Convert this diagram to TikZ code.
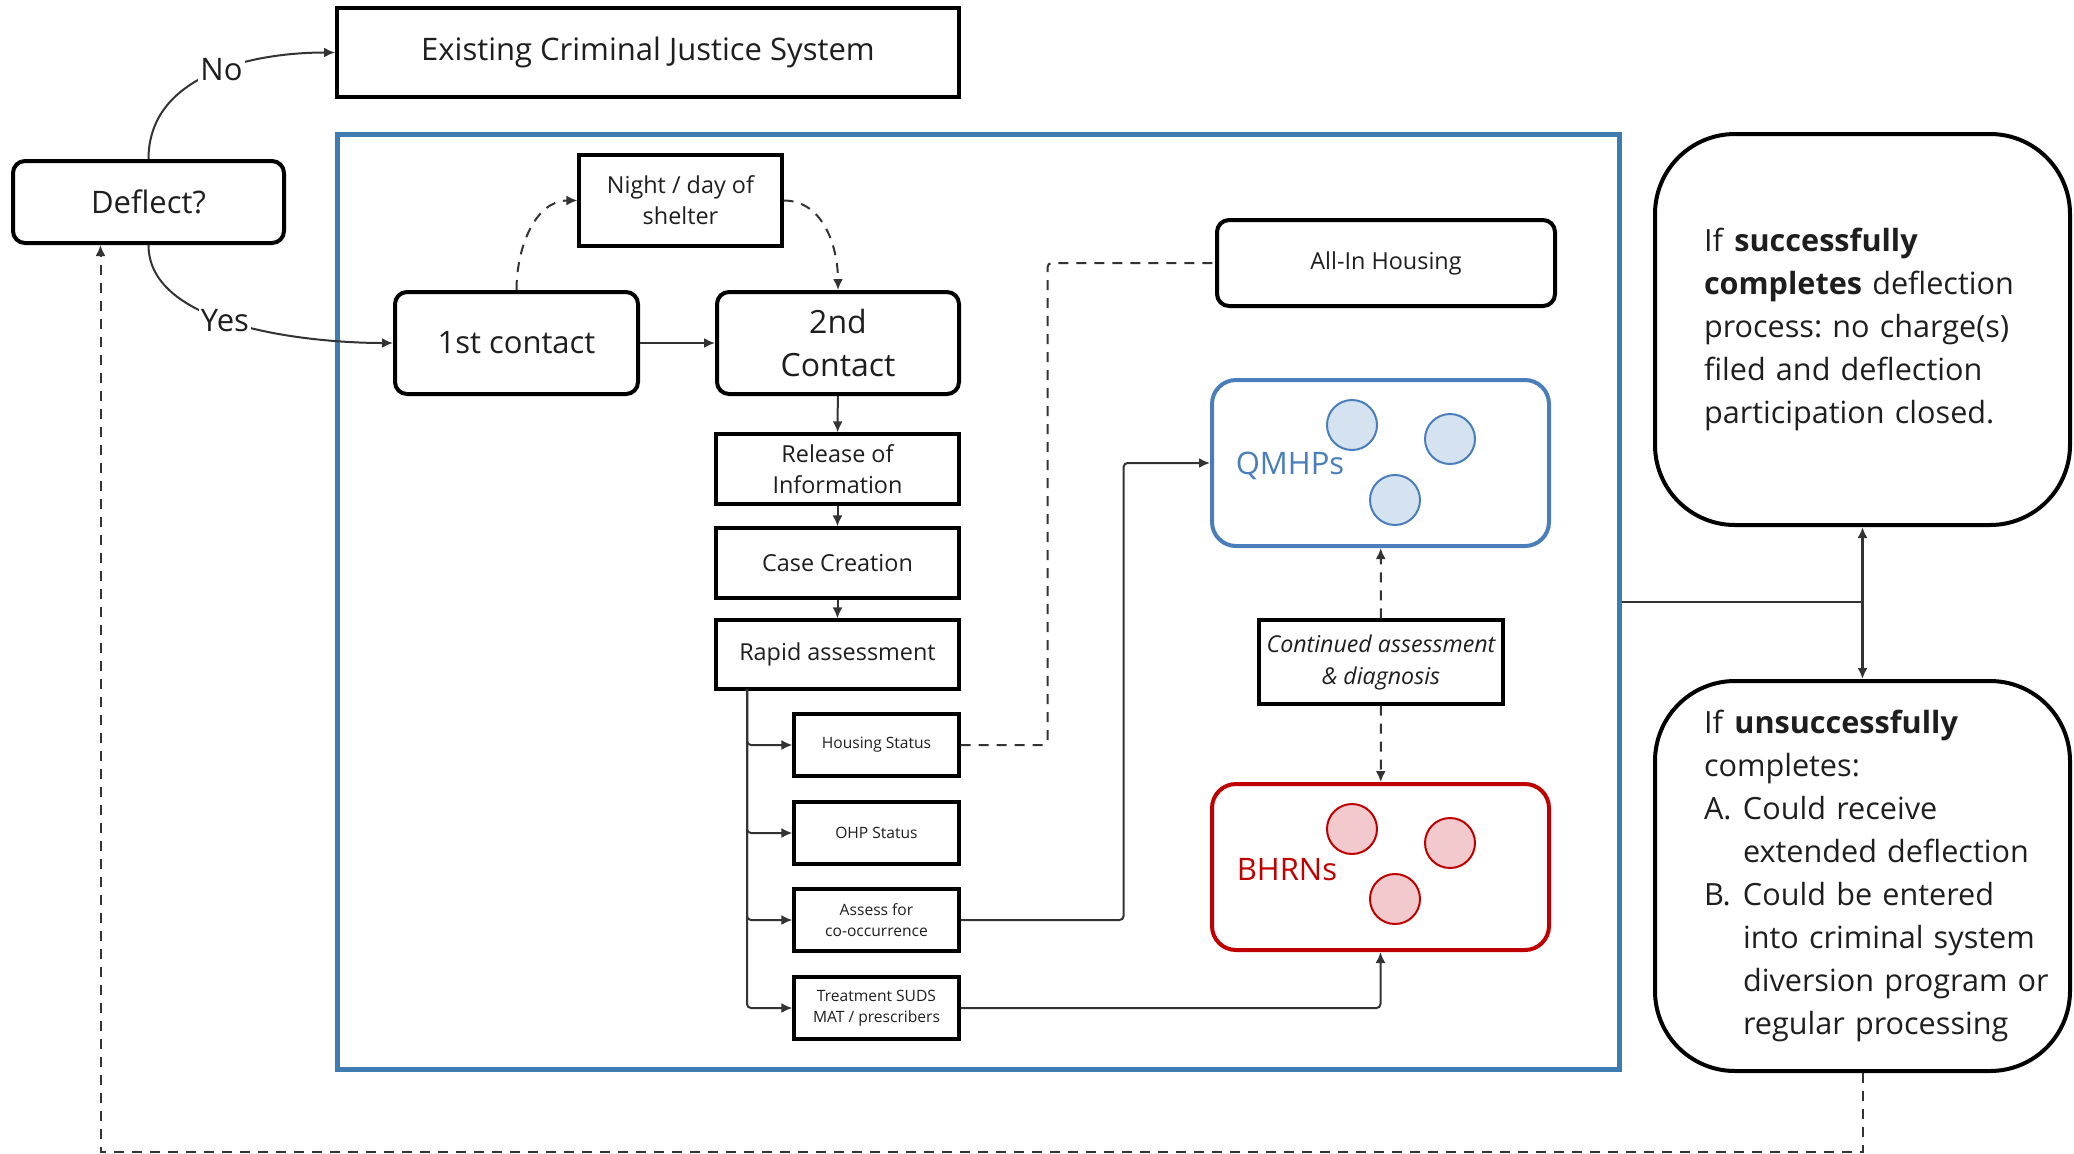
\documentclass[tikz,border=0pt]{standalone}
\usepackage{fontspec}
\setmainfont{Open Sans}
\usetikzlibrary{arrows.meta}
\frenchspacing

\definecolor{frameblue}{HTML}{3E7CB1}
\definecolor{qblue}{HTML}{4A7EBB}
\definecolor{qfill}{HTML}{D5E2F0}
\definecolor{bred}{HTML}{C00000}
\definecolor{bfill}{HTML}{F2C9CD}
\definecolor{linegray}{HTML}{333333}
\definecolor{inkgray}{HTML}{1E1E1E}

\begin{document}
\begin{tikzpicture}[x=0.5pt,y=-0.5pt,
        >={Latex[length=5.5pt,width=5pt]},
        every node/.style={inner sep=2pt,text=inkgray},
        bigbox/.style={draw,rounded corners=6pt,line width=2pt,align=center,font=\fontsize{15.5}{21}\selectfont},
        plainbox/.style={draw,line width=1.6pt,align=center,minimum width=121.5pt,font=\fontsize{11.7}{15.5}\selectfont},
        subbox/.style={draw,line width=1.6pt,align=center,minimum width=82.5pt,minimum height=31pt,font=\fontsize{7.8}{10.5}\selectfont},
        poolbox/.style={draw,rounded corners=12pt,line width=2pt,minimum width=168.5pt,minimum height=83pt},
        member/.style={circle,draw,line width=1pt,minimum size=25pt},
        outcome/.style={draw,rounded corners=40pt,line width=2pt,minimum width=207.5pt,minimum height=195.5pt,text width=158.5pt,align=left,font=\fontsize{15.3}{21.5}\selectfont},
        link/.style={draw=linegray,line width=1pt},
        dashlink/.style={link,dash pattern=on 5pt off 4pt},
        answer/.style={fill=white,inner sep=1pt,font=\fontsize{15.5}{17}\selectfont}]

    \useasboundingbox (0,0) rectangle (2074,1153);

    % left side
    \node[bigbox,rounded corners=0pt,minimum width=311pt,minimum height=44.5pt] (cjs) at (648,52.5) {Existing Criminal Justice System};
    \node[bigbox,minimum width=135.5pt,minimum height=41pt] (deflect) at (148.5,202) {Deflect?};

    % deflection programme
    \node[draw=frameblue,line width=2.5pt,minimum width=641pt,minimum height=467.5pt] (program) at (978,601.5) {};
    \node[plainbox,minimum width=101.5pt,minimum height=45.5pt] (shelter) at (680.5,200.5) {Night / day of\\shelter};
    \node[bigbox,minimum width=121.5pt,minimum height=51pt] (first) at (516.5,343) {1st contact};
    \node[bigbox,minimum width=121pt,minimum height=51pt,font=\fontsize{16}{21.5}\selectfont] (second) at (838,343) {2nd\\Contact};
    \node[plainbox,minimum height=35pt] (release) at (837.5,469) {Release of\\Information};
    \node[plainbox,minimum height=35pt] (casecreate) at (837.5,563) {Case Creation};
    \node[plainbox,minimum height=34.5pt] (rapid) at (837.5,654.5) {Rapid assessment};
    \node[subbox] (housing) at (876.5,745) {Housing Status};
    \node[subbox] (ohp) at (876.5,833) {OHP Status};
    \node[subbox] (cooccur) at (876.5,920) {Assess for\\co-occurrence};
    \node[subbox] (treatment) at (876.5,1008) {Treatment SUDS\\MAT / prescribers};
    \coordinate (trunk) at (747,689);

    \node[bigbox,minimum width=169pt,minimum height=43pt,font=\fontsize{11.7}{15}\selectfont] (allin) at (1386,263) {All-In Housing};

    \node[poolbox,draw=qblue] (qmhp) at (1380.5,463) {};
    \node[text=qblue,font=\fontsize{15.5}{17}\selectfont] (qmhplabel) at (1290,466) {QMHPs};
    \node[member,draw=qblue,fill=qfill] (q1) at (1352,425) {};
    \node[member,draw=qblue,fill=qfill] (q2) at (1450,439) {};
    \node[member,draw=qblue,fill=qfill] (q3) at (1395,500) {};

    \node[plainbox,minimum width=122pt,minimum height=42pt,font=\fontsize{11.6}{16}\selectfont\itshape] (continued) at (1381,662) {Continued assessment\\\& diagnosis};

    \node[poolbox,draw=bred] (bhrn) at (1380.5,867) {};
    \node[text=bred,font=\fontsize{15.5}{17}\selectfont] (bhrnlabel) at (1287,870) {BHRNs};
    \node[member,draw=bred,fill=bfill] (b1) at (1352,829) {};
    \node[member,draw=bred,fill=bfill] (b2) at (1450,843) {};
    \node[member,draw=bred,fill=bfill] (b3) at (1395,899) {};

    % outcomes
    \node[outcome] (success) at (1862.5,329.5) {If \textbf{successfully}\\\textbf{completes} deflection\\process: no charge(s)\\filed and deflection\\participation closed.};
    \node[outcome,minimum height=195pt] (failure) at (1862.5,876) {If \textbf{unsuccessfully}\\completes:\\\mbox{\makebox[19.5pt][l]{A.}Could receive}\\\mbox{\hspace*{19.5pt}extended deflection}\\\mbox{\makebox[19.5pt][l]{B.}Could be entered}\\\mbox{\hspace*{19.5pt}into criminal system}\\\mbox{\hspace*{19.5pt}diversion program or}\\\mbox{\hspace*{19.5pt}regular processing}};

    % connectors
    \draw[link,->] (deflect.north) to[out=90,in=180] node[answer,pos=0.55] {No} (cjs.west);
    \draw[link,->] (deflect.south) to[out=-90,in=180,looseness=0.8] node[answer,pos=0.45] {Yes} (first.west);
    \draw[link,->] (first) -- (second);
    \draw[dashlink,->] (first.north) to[out=90,in=180] (shelter.west);
    \draw[dashlink,->] (shelter.east) to[out=0,in=90] (second.north);
    \draw[link,->] (second) -- (release);
    \draw[link,->] (release) -- (casecreate);
    \draw[link,->] (casecreate) -- (rapid);
    \foreach \sub in {housing,ohp,cooccur,treatment}
        \draw[link,->,rounded corners=2pt] (trunk) |- (\sub.west);
    \draw[dashlink,rounded corners=2pt] (housing.east) -- ++(87,0) |- (allin.west);
    \draw[link,->,rounded corners=2pt] (cooccur.east) -- ++(163,0) |- (qmhp.west);
    \draw[link,->,rounded corners=2pt] (treatment.east) -| (bhrn.south);
    \draw[dashlink,->] (continued) -- (qmhp);
    \draw[dashlink,->] (continued) -- (bhrn);
    \coordinate (split) at (success.south |- program.east);
    \draw[link] (program.east) -- (split);
    \draw[link,line width=1.6pt,->] (split) -- (success.south);
    \draw[link,line width=1.6pt,->] (split) -- (failure.north);
    \draw[dashlink,->] (failure.south) -- ++(0,79) -| ([xshift=-24pt]deflect.south);
\end{tikzpicture}
\end{document}
